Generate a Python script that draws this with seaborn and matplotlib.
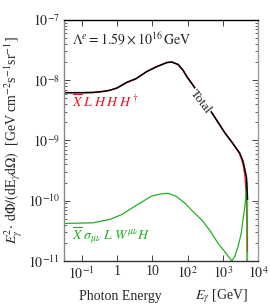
import numpy as np
import pandas as pd
import matplotlib
matplotlib.use("Agg")
import matplotlib.pyplot as plt
import seaborn as sns

# photon energy grid [GeV] and fluxes [GeV cm^-2 s^-1 sr^-1]
energy_total = [0.0316, 0.1, 0.21, 0.4, 0.63, 1.0, 1.9, 3.5, 7.0, 13.5, 26, 36, 54, 74, 100,
                140, 220, 490, 1150, 1800, 3000, 3700, 4260, 4700, 5000, 5000]
flux_total = [6.2e-9, 6.2e-9, 6.25e-9, 6.5e-9, 6.8e-9, 7.4e-9, 9.2e-9, 1.06e-8, 1.39e-8, 1.68e-8,
              1.96e-8, 2.0e-8, 1.82e-8, 1.47e-8, 1.1e-8, 8.4e-9, 5.7e-9, 2.87e-9, 1.33e-9,
              9.4e-10, 6.2e-10, 4.6e-10, 3.2e-10, 2.4e-10, 2.1e-10, 1e-13]

energy_red = [0.0316, 0.1, 0.21, 0.4, 0.63, 1.0, 1.9, 3.5, 7.0, 13.5, 26, 36, 54, 74, 100,
              140, 220, 490, 1150, 1800, 3000, 3700, 4260, 4600, 4850, 4950, 4950]
flux_red = [6.2e-9, 6.2e-9, 6.25e-9, 6.5e-9, 6.8e-9, 7.4e-9, 9.2e-9, 1.06e-8, 1.39e-8, 1.68e-8,
            1.96e-8, 2.0e-8, 1.82e-8, 1.47e-8, 1.1e-8, 8.4e-9, 5.7e-9, 2.87e-9, 1.33e-9,
            9.4e-10, 6.0e-10, 4.2e-10, 2.6e-10, 1.3e-10, 5.0e-11, 2.9e-11, 1e-13]

energy_green = [0.0316, 0.21, 0.63, 1.37, 3.2, 9.5, 16.6, 28, 47, 85, 130, 260, 430, 740,
                1170, 1500, 1800, 2200, 2700, 3300, 3700, 4260, 4800, 4900]
flux_green = [4.2e-11, 4.3e-11, 4.9e-11, 5.9e-11, 8.1e-11, 1.19e-10, 1.29e-10, 1.33e-10,
              1.19e-10, 9.1e-11, 7.0e-11, 4.7e-11, 3.2e-11, 1.95e-11, 1.4e-11, 1.15e-11,
              1.0e-11, 1.2e-11, 1.74e-11, 2.8e-11, 4.7e-11, 8.5e-11, 1.75e-10, 1e-13]

sns.set_style("ticks")
plt.rcParams["font.family"] = ["Liberation Serif", "DejaVu Serif"]
plt.rcParams["mathtext.fontset"] = "stix"
plt.rcParams["xtick.direction"] = "in"
plt.rcParams["ytick.direction"] = "in"

fig = plt.figure(figsize=(2.7, 3.06), dpi=100)
ax = fig.add_axes([0.237, 0.147, 0.719, 0.788])

df_red = pd.DataFrame({"E": energy_red, "flux": flux_red})
df_green = pd.DataFrame({"E": energy_green, "flux": flux_green})
df_total = pd.DataFrame({"E": energy_total, "flux": flux_total})

sns.lineplot(data=df_red, x="E", y="flux", ax=ax, color="#e8141c", lw=1.0, sort=False)
sns.lineplot(data=df_green, x="E", y="flux", ax=ax, color="#22b022", lw=0.9, sort=False)
sns.lineplot(data=df_total, x="E", y="flux", ax=ax, color="black", lw=1.1, sort=False)

ax.set_xscale("log")
ax.set_yscale("log")
ax.set_xlim(10 ** -1.5, 1e4)
ax.set_ylim(1e-11, 1e-7)
ax.set_xticks([0.1, 1, 10, 100, 1000, 10000])
ax.set_xticklabels(["$10^{-1}$", "1", "10", "$10^2$", "$10^3$", "$10^4$"])
ax.set_yticks([1e-11, 1e-10, 1e-9, 1e-8, 1e-7])
ax.set_yticklabels(["$10^{-11}$", "$10^{-10}$", "$10^{-9}$", "$10^{-8}$", "$10^{-7}$"])
ax.tick_params(which="both", top=True, right=True, labelsize=10, pad=3)
ax.tick_params(which="major", length=4, width=0.6)
ax.tick_params(which="minor", length=2, width=0.5)

ax.spines["top"].set_color("black")
ax.spines["bottom"].set_color("#333333")
ax.spines["left"].set_color("#888888")
ax.spines["right"].set_color("#999999")
for s in ax.spines.values():
    s.set_linewidth(1.0)

ax.set_xlabel("")
ax.set_ylabel(r"$E_\gamma^2\!\cdot\,\mathrm{d}\Phi/(\mathrm{dE}_\gamma\mathrm{d}\Omega)$  "
              r"[GeV cm$^{-2}$s$^{-1}$sr$^{-1}$]", fontsize=10, labelpad=2)

ax.text(0.04, 0.955, r"$\Lambda^e = 1.59 \times 10^{16}\,\mathrm{GeV}$", transform=ax.transAxes,
        fontsize=10, va="top", ha="left")
ax.text(0.04, 0.66, r"$\overline{X}\;L\;H\;H\;H^\dagger$", transform=ax.transAxes,
        fontsize=10, color="#e8141c", va="center", ha="left")
ax.text(0.04, 0.105, r"$\overline{X}\;\sigma_{\mu\nu}\;L\;W^{\mu\nu}H$", transform=ax.transAxes,
        fontsize=10, color="#22b022", va="center", ha="left")
ax.text(0.705, 0.662, "Total", transform=ax.transAxes, fontsize=9.5, rotation=-52,
        va="center", ha="center", bbox=dict(facecolor="white", edgecolor="none", pad=0.3))

fig.text(0.445, 0.032, "Photon Energy", fontsize=10, ha="center", va="center")
fig.text(0.82, 0.032, r"$E_\gamma$ [GeV]", fontsize=10, ha="center", va="center")

fig.savefig("out.png", dpi=100)
